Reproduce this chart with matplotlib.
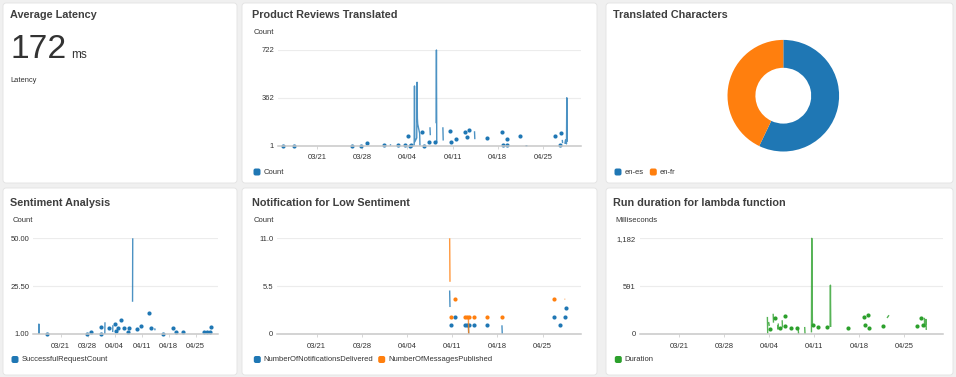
import numpy as np
import matplotlib.pyplot as plt
from matplotlib.patches import FancyBboxPatch

plt.rcParams['font.family'] = ['Liberation Sans', 'DejaVu Sans']

W, H = 956, 377
BLUE, ORANGE, GREEN = '#1f77b4', '#ff7f0e', '#2ca02c'

# x axis: days counted from 03/14
tick_days = [7, 14, 21, 28, 35, 42]
tick_labels = ["03/21", "03/28", "04/04", "04/11", "04/18", "04/25"]

latency_ms = 172

lang_pairs = ["en-es", "en-fr"]
lang_share = [57.1, 42.9]

# (day, value) points, None = gap in the data
reviews = [(1.7, 1), None, (3.4, 1), None, (12.4, 1), None, (13.8, 1), None,
           (14.8, 23), None, (17.4, 6), None, (18.35, 1), (18.4, 12), None,
           (19.5, 8), None, (20.7, 6), None, (21.1, 72), None, (21.4, 1), None,
           (21.6, 4), None, (22.05, 1), (22.1, 451), (22.15, 30), (22.45, 60),
           (22.5, 479), (22.55, 207), (22.6, 164), (22.9, 94), (22.95, 1), None,
           (23.3, 106), None, (23.5, 1), None, (24.3, 29), None, (24.5, 140),
           (24.55, 80), None, (25.3, 26), None, (25.45, 170), (25.5, 722),
           (25.55, 26), None, (26.5, 140), (26.55, 40), None, (27.6, 114), None,
           (27.8, 26), None, (28.5, 49), None, (29.9, 102), None, (30.3, 69), None,
           (30.6, 119), None, (31.4, 110), (31.45, 50), None, (33.4, 56), None,
           (35.7, 102), None, (35.8, 6), None, (36.4, 6), None, (36.5, 49), None,
           (38.5, 74), None, (39.3, 1), (39.6, 1), None, (43.8, 74), None,
           (44.6, 6), None, (44.8, 94), None, (45.0, 45), (45.05, 20), None,
           (45.4, 15), (45.5, 45), (45.65, 15), (45.7, 362), (45.75, 30)]

sentiment = [(1.3, 1), (1.35, 6.1), (1.4, 1), None, (3.35, 1), None, (13.8, 1), None,
             (14.9, 1.9), None, (17.4, 4.7), None, (17.5, 1), None,
             (18.45, 1), (18.5, 7), None, (19.6, 3.9), None, (20.5, 2), (20.55, 5.5), None,
             (21.15, 6.1), None, (21.3, 2.5), None, (22.0, 3.9), None, (22.7, 8.2), None,
             (23.5, 3.9), None, (24.5, 1.9), None, (24.7, 3.9), None,
             (25.65, 17.5), (25.7, 50), None, (26.7, 3.4), None, (27.85, 5.1), None,
             (30.0, 11.9), None, (30.5, 3.9), None, (31.4, 3.9), (31.5, 2.9), None,
             (33.6, 1), None, (36.1, 3.9), None, (36.8, 1.9), None, (38.7, 1.9), None,
             (44.2, 1.9), None, (44.9, 1.9), None, (45.7, 1.9), None, (45.9, 4.7)]

delivered = [(27.6, 5.0), (27.65, 3.1), None, (27.8, 1), None, (28.5, 2), None,
             (29.9, 1), None, (30.3, 1), None, (30.5, 1), (30.55, 0), None, (30.6, 1), None,
             (31.4, 1), None, (33.4, 1), None, (35.7, 1), (35.75, 0), None,
             (43.8, 2), None, (44.7, 1), None, (45.5, 2), None, (45.6, 3)]

published = [(27.6, 11), (27.65, 6), None, (27.8, 2), None, (28.5, 4), None,
             (29.9, 2), None, (30.3, 2), None, (30.5, 2), (30.55, 0), None, (30.6, 2), None,
             (31.4, 2), None, (33.4, 2), None, (35.7, 2), None, (43.8, 4), None,
             (45.4, 4), (45.5, 4)]

duration = [(20.7, 211), (20.75, 5), None, (20.9, 149), (21.0, 100), None, (21.15, 58), None,
            (21.6, 250), (21.65, 140), None, (21.9, 203), None, (22.3, 108), (22.35, 60),
            (22.4, 130), None, (22.6, 80), None, (23.0, 170), (23.05, 80), None,
            (23.4, 95), None, (23.5, 223), None, (24.4, 79), None, (25.3, 79), None,
            (25.5, 58), (25.55, 0), None, (26.5, 87), (26.55, 0), None,
            (27.55, 20), (27.6, 1182), (27.7, 108), None, (27.8, 108), None,
            (28.6, 87), None, (29.9, 87), None, (30.45, 87), (30.5, 603), (30.55, 87), None,
            (33.3, 71), None, (35.75, 211), None, (35.85, 108), None, (36.4, 240), None,
            (36.5, 79), None, (38.6, 104), None, (39.3, 198), (39.6, 232), None,
            (43.9, 104), None, (44.6, 203), None, (44.85, 108), None,
            (45.1, 200), (45.15, 90), (45.3, 120), (45.35, 180), (45.4, 50)]


def split(series):
    xs, ys = [], []
    for p in series:
        if p is None:
            xs.append(np.nan)
            ys.append(np.nan)
        else:
            xs.append(p[0])
            ys.append(p[1])
    return np.array(xs), np.array(ys)


def draw_series(ax, series, color):
    x, y = split(series)
    ax.plot(x, y, color=color, lw=1.0, alpha=0.8, solid_capstyle='butt', clip_on=False)
    prev = np.r_[np.nan, y[:-1]]
    nxt = np.r_[y[1:], np.nan]
    lone = ~np.isnan(y) & np.isnan(prev) & np.isnan(nxt)
    ax.plot(x[lone], y[lone], 'o', color=color, ms=3.0, mew=0, clip_on=False)


fig = plt.figure(figsize=(W / 100, H / 100), dpi=100)
fig.patch.set_facecolor('#f0f0f0')

bg = fig.add_axes([0, 0, 1, 1])
bg.set_xlim(0, W)
bg.set_ylim(H, 0)
bg.axis('off')


def px_axes(l, t, r, b):
    return fig.add_axes([l / W, 1 - b / H, (r - l) / W, (b - t) / H])


panels = [(3, 3, 237, 183), (242, 3, 597, 183), (606, 3, 953, 183),
          (3, 188, 237, 375), (242, 188, 597, 375), (606, 188, 953, 375)]
for l, t, r, b in panels:
    bg.add_patch(FancyBboxPatch((l, t), r - l, b - t, boxstyle='round,pad=0,rounding_size=3',
                                fc='white', ec='#e2e2e2', lw=0.6))

titles = [(10, 15, "Average Latency"), (252, 15, "Product Reviews Translated"),
          (613, 15, "Translated Characters"), (10, 203, "Sentiment Analysis"),
          (252, 203, "Notification for Low Sentiment"), (613, 203, "Run duration for lambda function")]
for x, y, s in titles:
    bg.text(x, y, s, fontsize=7.8, weight='bold', color='#3f3f3f', va='center', ha='left')

# single value widget
bg.text(10.5, 57.5, str(latency_ms), fontsize=24.2, color='#333333', va='baseline')
bg.text(71.5, 57.5, "ms", fontsize=8.5, color='#333333', va='baseline')
bg.text(10.7, 81, "Latency", fontsize=5.4, color='#333333', va='center')

# unit labels
for x, y, s in [(254, 33, "Count"), (12.3, 221, "Count"), (254, 221, "Count"), (615, 221, "Milliseconds")]:
    bg.text(x, y, s, fontsize=5.5, color='#333333', va='center')


def legend_item(x, y, color, label):
    bg.add_patch(FancyBboxPatch((x - 3.5, y - 3.5), 7, 7, boxstyle='round,pad=0,rounding_size=2',
                                fc=color, ec='none'))
    bg.text(x + 6.5, y, label, fontsize=5.5, color='#333333', va='center')


legend_item(257, 172, BLUE, "Count")
legend_item(618, 172, BLUE, lang_pairs[0])
legend_item(653.3, 172, ORANGE, lang_pairs[1])
legend_item(15, 359.5, BLUE, "SuccessfulRequestCount")
legend_item(257.3, 359.5, BLUE, "NumberOfNotificationsDelivered")
legend_item(381.7, 359.5, ORANGE, "NumberOfMessagesPublished")
legend_item(618.3, 359.5, GREEN, "Duration")


def style_chart(ax, xlim, ymin, ymax, ylabels):
    ax.set_xlim(*xlim)
    ax.set_ylim(ymin, ymax)
    ax.set_yticks([ymin, (ymin + ymax) / 2, ymax])
    ax.set_yticklabels(ylabels)
    ax.set_xticks(tick_days)
    ax.set_xticklabels(tick_labels)
    for s in ['top', 'right', 'left']:
        ax.spines[s].set_visible(False)
    ax.spines['bottom'].set_color('#c8c8c8')
    ax.spines['bottom'].set_linewidth(1.1)
    ax.grid(axis='y', color='#ececec', lw=0.8)
    ax.set_axisbelow(True)
    ax.tick_params(axis='y', length=0, pad=3, labelsize=5.5, labelcolor='#333333')
    ax.tick_params(axis='x', length=2.2, width=0.6, color='#d0d0d0', pad=4,
                   labelsize=5.5, labelcolor='#333333')
    ax.patch.set_alpha(0)


ax2 = px_axes(278.3, 50, 581, 145.7)
draw_series(ax2, reviews, BLUE)
style_chart(ax2, (1.0, 47.9), 1, 722, ["1", "362", "722"])

ax3 = px_axes(783.3 - 55.8, 95.7 - 55.8, 783.3 + 55.8, 95.7 + 55.8)
ax3.pie(lang_share, colors=[BLUE, ORANGE], startangle=90, counterclock=False,
        radius=1, wedgeprops=dict(width=0.5, linewidth=0))
ax3.set_xlim(-1, 1)
ax3.set_ylim(-1, 1)
ax3.set_aspect('equal')
ax3.axis('off')

ax4 = px_axes(33.3, 238.3, 218.3, 334)
draw_series(ax4, sentiment, BLUE)
style_chart(ax4, (-0.1, 47.9), 1, 50, ["1.00", "25.50", "50.00"])

ax5 = px_axes(277.3, 238.3, 580.7, 334)
draw_series(ax5, delivered, BLUE)
draw_series(ax5, published, ORANGE)
style_chart(ax5, (0.9, 47.9), 0, 11, ["0", "5.5", "11.0"])

ax6 = px_axes(640, 238.3, 943, 334)
draw_series(ax6, duration, GREEN)
style_chart(ax6, (0.9, 48.0), 0, 1182, ["0", "591", "1,182"])

fig.savefig('out.png', dpi=100, facecolor=fig.get_facecolor())
